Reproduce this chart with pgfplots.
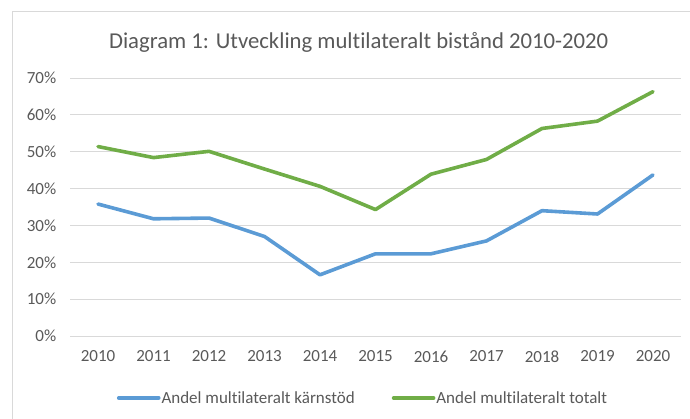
\documentclass[border=0pt]{standalone}
\usepackage{pgfplots}
\pgfplotsset{compat=1.18}
\usepackage{fontspec}
\setmainfont{Carlito}[Ligatures=NoCommon]
\definecolor{cblue}{HTML}{5B9BD5}
\definecolor{cgreen}{HTML}{70AD47}
\definecolor{ctext}{HTML}{595959}
\definecolor{cgrid}{HTML}{D9D9D9}
\begin{document}
\begin{tikzpicture}
\path[use as bounding box] (-70.25pt,-83pt) rectangle (619.75pt,336pt);
\clip (-70.25pt,-83pt) rectangle (619.75pt,336pt);
\draw[cgrid, line width=1pt] (-57.75pt,-120pt) -- (-57.75pt,324pt) -- (720pt,324pt);
\node[font=\fontsize{22.7}{27}\selectfont, text=ctext, anchor=base, inner sep=0pt] at (288.4pt,287.7pt) {Diagram 1: Utveckling multilateralt bistånd 2010-2020};
\begin{axis}[
  at={(0pt,0pt)}, anchor=south west,
  scale only axis, width=610.5pt, height=258pt,
  xmin=2009.5, xmax=2020.5, ymin=0, ymax=70,
  xtick={2010,2011,2012,2013,2014,2015,2016,2017,2018,2019,2020},
  xticklabels={2010,2011,2012,2013,2014,2015,2016,2017,2018,2019,2020},
  ytick={0,10,20,30,40,50,60,70},
  yticklabels={0\%,10\%,20\%,30\%,40\%,50\%,60\%,70\%},
  ymajorgrids, grid style={cgrid, line width=0.9pt},
  axis line style={draw=none},
  major tick length=0pt,
  tick label style={font=\fontsize{17}{20}\selectfont, text=ctext},
  yticklabel style={xshift=-10.5pt},
  xticklabel style={yshift=-11pt},
  legend style={at={(0.4787,-0.2403)}, anchor=center, draw=none, fill=none,
    font=\fontsize{17}{20}\selectfont, text=ctext, legend columns=2,
    nodes={inner xsep=1pt},
    /tikz/every even column/.append style={column sep=36pt},
    legend cell align=left, inner sep=0pt},
  legend image code/.code={\draw[#1] (0pt,0pt) -- (40pt,0pt);},
  every axis plot/.append style={line width=3.6pt, line cap=round, line join=round},
]
\addplot[cblue] coordinates {(2010,35.8) (2011,31.8) (2012,32.0) (2013,27.0) (2014,16.6) (2015,22.3) (2016,22.3) (2017,25.8) (2018,34.0) (2019,33.1) (2020,43.7)};
\addlegendentry{Andel multilateralt kärnstöd}
\addplot[cgreen] coordinates {(2010,51.4) (2011,48.4) (2012,50.1) (2013,45.3) (2014,40.6) (2015,34.3) (2016,43.9) (2017,47.9) (2018,56.3) (2019,58.3) (2020,66.3)};
\addlegendentry{Andel multilateralt totalt}
\end{axis}
\end{tikzpicture}
\end{document}
